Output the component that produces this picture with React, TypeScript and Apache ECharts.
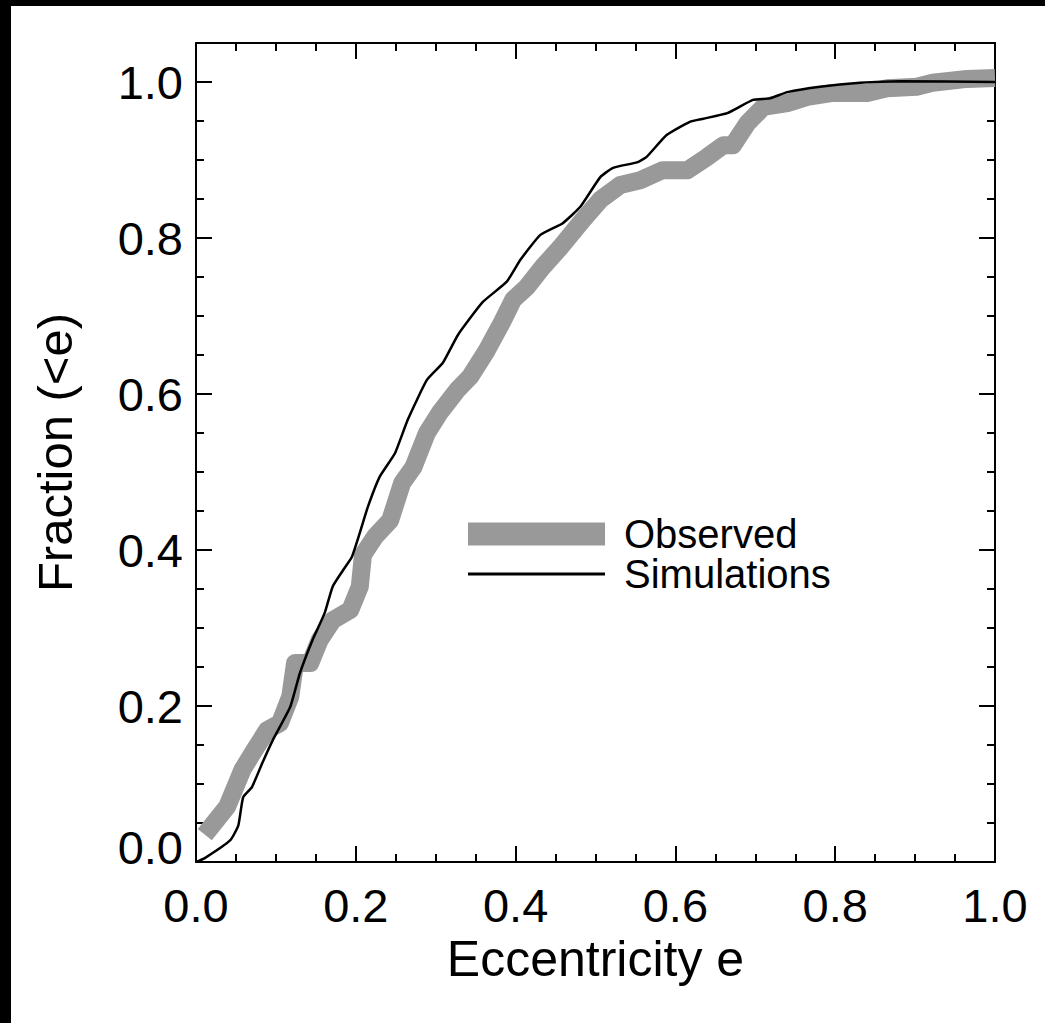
import React, { useEffect, useRef } from "react";
import * as echarts from "echarts";

// Observed distribution (eccentricity, cumulative fraction)
const observedE = [0.011, 0.039, 0.058, 0.071, 0.089, 0.105, 0.118, 0.124, 0.143, 0.155, 0.171, 0.193, 0.205, 0.209, 0.224, 0.243, 0.258, 0.272, 0.289, 0.305, 0.327, 0.343, 0.364, 0.383, 0.397, 0.414, 0.434, 0.456, 0.484, 0.506, 0.531, 0.556, 0.584, 0.615, 0.64, 0.66, 0.672, 0.69, 0.71, 0.74, 0.765, 0.797, 0.84, 0.865, 0.902, 0.922, 0.965, 1.0];
const observedF = [0.035, 0.071, 0.118, 0.14, 0.169, 0.178, 0.212, 0.255, 0.255, 0.285, 0.31, 0.323, 0.353, 0.394, 0.417, 0.438, 0.486, 0.506, 0.55, 0.576, 0.605, 0.622, 0.656, 0.692, 0.721, 0.737, 0.763, 0.788, 0.823, 0.849, 0.868, 0.874, 0.887, 0.887, 0.904, 0.919, 0.919, 0.947, 0.968, 0.973, 0.981, 0.986, 0.986, 0.992, 0.994, 0.999, 1.004, 1.005];

// Simulations (eccentricity, cumulative fraction)
const simE = [0.0, 0.011, 0.043, 0.053, 0.059, 0.07, 0.083, 0.096, 0.118, 0.13, 0.146, 0.161, 0.171, 0.184, 0.195, 0.205, 0.215, 0.23, 0.249, 0.265, 0.289, 0.309, 0.328, 0.359, 0.389, 0.406, 0.431, 0.459, 0.481, 0.506, 0.522, 0.552, 0.564, 0.589, 0.618, 0.635, 0.665, 0.697, 0.718, 0.74, 0.781, 0.831, 0.881, 1.0];
const simF = [0.0, 0.005, 0.028, 0.047, 0.083, 0.096, 0.127, 0.156, 0.199, 0.242, 0.285, 0.319, 0.353, 0.374, 0.391, 0.422, 0.455, 0.494, 0.524, 0.567, 0.618, 0.64, 0.676, 0.718, 0.744, 0.772, 0.804, 0.819, 0.84, 0.878, 0.89, 0.897, 0.904, 0.932, 0.949, 0.953, 0.96, 0.977, 0.979, 0.987, 0.994, 0.999, 1.001, 1.0];

const xTitle = "Eccentricity e";
const yTitle = "Fraction (<e)";
const seriesNames = ["Observed", "Simulations"];

const FONT = "'Liberation Sans', Arial, Helvetica, sans-serif";

export default function App() {
  const ref = useRef<HTMLDivElement>(null);
  useEffect(() => {
    if (!ref.current) return;
    const chart = echarts.init(ref.current, null, { renderer: "svg" });
    const axisLine = { show: true, onZero: false, lineStyle: { color: "#000", width: 2 } };
    const majorTickX = { show: true, inside: true, length: 16, lineStyle: { color: "#000", width: 2 } };
    const minorTickX = { show: true, splitNumber: 4, length: 8, lineStyle: { color: "#000", width: 2 } };
    const obs = observedE.map((e, i) => [e, observedF[i]]);
    const sim = simE.map((e, i) => [e, simF[i]]);
    chart.setOption({
      animation: false,
      backgroundColor: "#fff",
      textStyle: { fontFamily: FONT },
      grid: { left: 196, right: 50, top: 43, bottom: 161, containLabel: false },
      graphic: [
        { type: "rect", shape: { x: 0, y: 0, width: 1045, height: 6 }, style: { fill: "#000" }, silent: true },
        { type: "rect", shape: { x: 0, y: 0, width: 11, height: 1023 }, style: { fill: "#000" }, silent: true },
      ],
      legend: {
        left: 468,
        top: 514,
        orient: "vertical",
        padding: 0,
        itemWidth: 137,
        itemHeight: 23,
        itemGap: 0,
        textStyle: { fontSize: 40, color: "#000", fontFamily: FONT, padding: [0, 0, 0, 14] },
        data: [
          { name: seriesNames[0], icon: "rect", itemStyle: { color: "#999999" } },
          { name: seriesNames[1], icon: "path://M0,0 L137,0 L137,3 L0,3 Z", itemStyle: { color: "#000" } },
        ],
      },
      xAxis: [
        {
          type: "value", position: "bottom", min: 0, max: 1, interval: 0.2,
          axisLine, axisTick: majorTickX, minorTick: minorTickX, splitLine: { show: false }, minorSplitLine: { show: false },
          axisLabel: { show: true, fontSize: 47, color: "#000", fontFamily: FONT, margin: 20, formatter: (v: number) => v.toFixed(1) },
          name: xTitle, nameLocation: "middle", nameGap: 64,
          nameTextStyle: { fontSize: 50, color: "#000", fontFamily: FONT },
        },
        {
          type: "value", position: "top", min: 0, max: 1, interval: 0.2,
          axisLine, axisTick: majorTickX, minorTick: minorTickX, splitLine: { show: false }, minorSplitLine: { show: false },
          axisLabel: { show: false },
        },
      ],
      yAxis: [
        {
          type: "value", position: "left", min: 0, max: 1.05, interval: 0.2,
          axisLine, axisTick: { show: true, inside: true, length: 16, lineStyle: { color: "#000", width: 2 } },
          splitLine: { show: false },
          axisLabel: {
            show: true, fontSize: 47, color: "#000", fontFamily: FONT, margin: 13,
            formatter: (v: number) => (v > 1.01 ? "" : v === 0 ? "{z|0.0}" : v.toFixed(1)),
            rich: { z: { fontSize: 47, color: "#000", fontFamily: FONT, padding: [0, 0, 30, 0] } },
          },
          name: yTitle, nameLocation: "middle", nameRotate: 90, nameGap: 117,
          nameTextStyle: { fontSize: 49, color: "#000", fontFamily: FONT },
        },
        {
          type: "value", position: "left", min: 0, max: 1.05, interval: 0.05,
          axisLine: { show: false, onZero: false },
          axisTick: { show: true, inside: true, length: 8, lineStyle: { color: "#000", width: 2 } },
          splitLine: { show: false }, axisLabel: { show: false },
        },
        {
          type: "value", position: "right", min: 0, max: 1.05, interval: 0.2,
          axisLine, axisTick: { show: true, inside: true, length: 16, lineStyle: { color: "#000", width: 2 } },
          splitLine: { show: false }, axisLabel: { show: false },
        },
        {
          type: "value", position: "right", min: 0, max: 1.05, interval: 0.05,
          axisLine: { show: false, onZero: false },
          axisTick: { show: true, inside: true, length: 8, lineStyle: { color: "#000", width: 2 } },
          splitLine: { show: false }, axisLabel: { show: false },
        },
      ],
      series: [
        {
          name: seriesNames[0], type: "line", data: obs, xAxisIndex: 0, yAxisIndex: 0,
          showSymbol: false, symbol: "none", smooth: false, clip: true,
          lineStyle: { color: "#999999", width: 18, join: "round" }, itemStyle: { color: "#999999" },
          z: 2,
        },
        {
          name: seriesNames[1], type: "line", data: sim, xAxisIndex: 0, yAxisIndex: 0,
          showSymbol: false, symbol: "none", smooth: 0.15, clip: true,
          lineStyle: { color: "#000", width: 2.5 }, itemStyle: { color: "#000" },
          z: 3,
        },
      ],
    });
    return () => chart.dispose();
  }, []);
  return <div ref={ref} style={{ position: "absolute", left: 0, top: 0, width: 1045, height: 1023 }} />;
}
